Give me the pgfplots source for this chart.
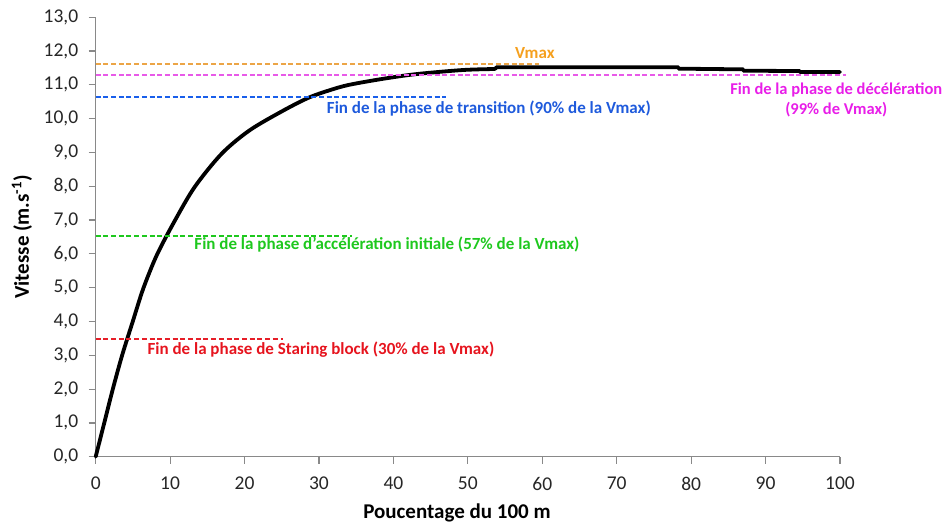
\documentclass[border=0pt]{standalone}
\usepackage{fontspec}
\setmainfont{Carlito}
\usepackage{pgfplots}
\pgfplotsset{compat=1.18}
\definecolor{axgray}{RGB}{137,137,137}
\definecolor{txorange}{RGB}{245,160,30}
\definecolor{lnorange}{RGB}{236,165,70}
\definecolor{txmagenta}{RGB}{232,30,232}
\definecolor{lnmagenta}{RGB}{232,90,232}
\definecolor{txblue}{RGB}{30,90,220}
\definecolor{lnblue}{RGB}{25,95,235}
\definecolor{txgreen}{RGB}{30,200,30}
\definecolor{txred}{RGB}{230,20,30}
\definecolor{lnred}{RGB}{230,30,40}
\begin{document}
\begin{tikzpicture}
\useasboundingbox (-95.7bp,-68.3bp) rectangle (853.3bp,456.7bp);
\begin{axis}[
  scale only axis, width=744.3bp, height=439.4bp,
  xmin=0, xmax=100, ymin=0, ymax=13,
  axis x line*=bottom, axis y line*=left,
  axis line style={axgray, line width=1.2bp},
  tick style={axgray, line width=1.2bp},
  tick align=outside, major tick length=7bp,
  xtick={0,10,...,100}, ytick={0,1,...,13},
  ticklabel style={font=\fontsize{19.5bp}{23bp}\selectfont, text=black!85},
  /pgf/number format/assume math mode=true,
  yticklabel style={xshift=-7bp, /pgf/number format/.cd, fixed, fixed zerofill, precision=1, use comma},
  xticklabel style={yshift=-10bp, /pgf/number format/.cd, fixed, precision=0},
  xlabel={\textbf{Poucentage du 100 m}},
  ylabel={\textbf{Vitesse (m.s\textsuperscript{-1})}},
  label style={font=\fontsize{21bp}{25bp}\selectfont},
  xlabel style={at={(axis description cs:0.4854,-0.128)}, anchor=center},
  ylabel style={at={(axis description cs:-0.099,0.5)}, anchor=center},
  clip=false,
  every node/.append style={inner sep=0pt},
]
% velocity curve: acceleration part
\addplot[black, line width=3.8bp, smooth, line cap=round] coordinates {
(0,0) (1.15,1.0) (2.3,2.0) (3.55,3.0) (4.98,4.0) (6.4,4.98) (8.2,5.96)
(10.6,6.97) (13.3,7.98) (16.95,8.97) (20.7,9.66) (25.2,10.24) (28.6,10.62)
(31.4,10.84) (34.0,11.0) (38.6,11.18) (43.1,11.32) (49.3,11.44) (53.6,11.47)};
% velocity curve: plateau part
\addplot[black, line width=3.8bp, line cap=round] coordinates {
(53.6,11.47) (53.9,11.52) (78.2,11.52) (78.4,11.48) (86.9,11.46) (87.1,11.42)
(94.5,11.41) (94.7,11.38) (100,11.38)};
% reference lines
\addplot[color=lnorange, line width=1.6bp, dash pattern=on 5bp off 2.7bp] coordinates {(0,11.62) (59.6,11.62)};
\addplot[color=lnmagenta, line width=1.6bp, dash pattern=on 5bp off 2.7bp] coordinates {(0,11.30) (100.8,11.30)};
\addplot[color=lnblue, line width=2bp, dash pattern=on 5bp off 2.7bp] coordinates {(0,10.65) (47.1,10.65)};
\addplot[color=txgreen, line width=1.8bp, dash pattern=on 5bp off 2.7bp] coordinates {(0,6.54) (34.5,6.54)};
\addplot[color=lnred, line width=1.6bp, dash pattern=on 5bp off 2.7bp] coordinates {(0,3.48) (25.2,3.48)};
% labels
\node[anchor=center, text=txorange, font=\bfseries\fontsize{17bp}{19bp}\selectfont] at (axis cs:59.0,11.93) {Vmax};
\node[anchor=west, text=txblue, font=\bfseries\fontsize{17bp}{19bp}\selectfont] at (axis cs:30.6,10.31) {Fin de la phase de transition (90\% de la Vmax)};
\node[anchor=west, text=txgreen, font=\bfseries\fontsize{17bp}{19bp}\selectfont] at (axis cs:12.8,6.28) {Fin de la phase d’accélération initiale (57\% de la Vmax)};
\node[anchor=west, text=txred, font=\bfseries\fontsize{17bp}{19bp}\selectfont] at (axis cs:6.5,3.16) {Fin de la phase de Staring block (30\% de la Vmax)};
\node[anchor=center, align=center, text=txmagenta, font=\bfseries\fontsize{16.5bp}{20bp}\selectfont] at (axis cs:99.5,10.55) {Fin de la phase de décélération\\(99\% de Vmax)};
\end{axis}
\end{tikzpicture}
\end{document}
